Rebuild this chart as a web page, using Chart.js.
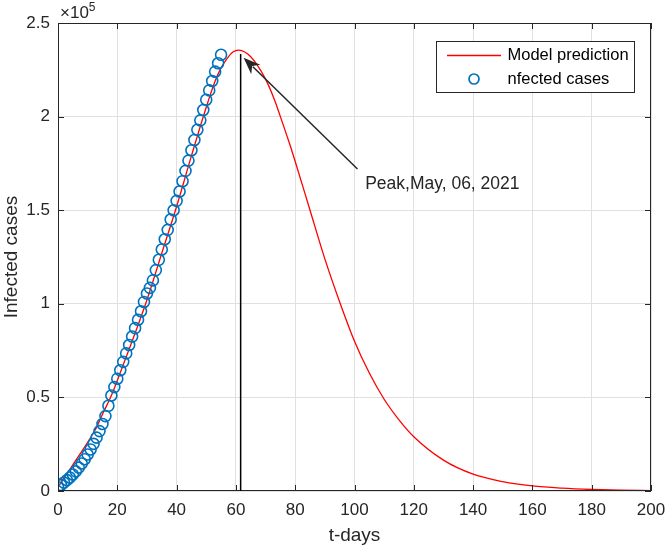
<!DOCTYPE html>
<html><head><meta charset="utf-8">
<script src="https://cdn.jsdelivr.net/npm/chart.js@4/dist/chart.umd.min.js"></script>
<style>html,body{margin:0;padding:0;background:#fff}canvas{display:block}</style>
</head><body>
<canvas id="c" width="666" height="550"></canvas>
<script>
// ---- data ----
const observedDays = [0,1,2,3,4,5,6,7,8,9,10,11,12,13,14,15,16,17,18,19,20,21,22,23,24,25,26,27,28,29,30,31,32,33,34,35,36,37,38,39,40,41,42,43,44,45,46,47,48,49,50,51,52,53,54,55];
const observedCases = [2000,3200,4500,5800,7200,8800,10500,12500,14700,17000,19500,22200,25200,28500,32000,35800,40000,45500,51000,55500,60000,64500,69000,73500,78000,82500,87000,91500,96000,101000,105500,108500,112500,118000,123500,129000,134500,139500,145000,150000,155000,160000,165500,171000,176500,182000,187500,193000,198000,203500,209000,214000,219000,224000,228500,233000];
const modelDays = [0,5,10,13,15,18,20,25,30,35,40,45,50,53,55,57,59,61,63,65,67,70,73,75,78,80,85,90,95,100,105,110,115,120,130,140,150,160,170,180,190,200];
const modelCases = [2000,14000,26000,34000,41000,51000,59000,80000,102000,127000,152000,179000,205000,219000,226000,231000,234500,235500,234500,232000,228000,220000,209000,200000,186000,176000,150000,124000,101000,80000,63000,49000,38000,29000,16500,9000,5000,2700,1500,800,400,200];
const xTickValues = [0,20,40,60,80,100,120,140,160,180,200];
const yTickValues = [0,50000,100000,150000,200000,250000];
const seriesNames = ['Model prediction','nfected cases'];
const xTitle = 't-days';
const yTitle = 'Infected cases';
const peakDay = 61.6;
const peakTop = 233500;
const arrowTail = [101, 172000];
const arrowTip = [62.6, 231500];
const peakLabel = 'Peak,May, 06, 2021';
const peakLabelAt = [103.6, 164000];

const FONT = '"Liberation Sans", Arial, Helvetica, sans-serif';
const AX = '#262626';
const BLUE = '#0072BD';

const decor = {
  id: 'decor',
  afterDraw(chart) {
    const ctx = chart.ctx, a = chart.chartArea;
    const xs = chart.scales.x, ys = chart.scales.y;
    ctx.save();
    // box
    ctx.strokeStyle = AX; ctx.lineWidth = 1;
    ctx.strokeRect(Math.round(a.left)+0.5, Math.round(a.top)+0.5, Math.round(a.right-a.left)-1, Math.round(a.bottom-a.top)-1);
    // inward ticks
    ctx.beginPath();
    xTickValues.forEach(v => {
      const x = Math.round(xs.getPixelForValue(v)) + 0.5;
      ctx.moveTo(x, a.bottom); ctx.lineTo(x, a.bottom - 6);
      ctx.moveTo(x, a.top); ctx.lineTo(x, a.top + 6);
    });
    yTickValues.forEach(v => {
      const y = Math.round(ys.getPixelForValue(v)) + 0.5;
      ctx.moveTo(a.left, y); ctx.lineTo(a.left + 6, y);
      ctx.moveTo(a.right, y); ctx.lineTo(a.right - 6, y);
    });
    ctx.stroke();
    // exponent
    ctx.fillStyle = AX;
    ctx.textBaseline = 'alphabetic'; ctx.textAlign = 'left';
    ctx.font = '17px ' + FONT;
    ctx.fillText('\u00d710', a.left + 2, a.top - 5);
    const w = ctx.measureText('\u00d710').width;
    ctx.font = '12px ' + FONT;
    ctx.fillText('5', a.left + 2 + w, a.top - 12);
    // peak vertical line
    const px = xs.getPixelForValue(peakDay);
    ctx.strokeStyle = '#000'; ctx.lineWidth = 1.5;
    ctx.beginPath();
    ctx.moveTo(px, ys.getPixelForValue(0)); ctx.lineTo(px, ys.getPixelForValue(peakTop));
    ctx.stroke();
    // arrow
    const tx = xs.getPixelForValue(arrowTail[0]), ty = ys.getPixelForValue(arrowTail[1]);
    const hx = xs.getPixelForValue(arrowTip[0]), hy = ys.getPixelForValue(arrowTip[1]);
    const ang = Math.atan2(hy - ty, hx - tx);
    const L = 17, W = 6.5;
    const bx = hx - L*Math.cos(ang), by = hy - L*Math.sin(ang);
    ctx.strokeStyle = '#262626'; ctx.lineWidth = 1.5;
    ctx.beginPath(); ctx.moveTo(tx, ty); ctx.lineTo(bx + 4*Math.cos(ang), by + 4*Math.sin(ang)); ctx.stroke();
    ctx.fillStyle = '#262626';
    ctx.beginPath();
    ctx.moveTo(hx, hy);
    ctx.lineTo(bx - W*Math.sin(ang), by + W*Math.cos(ang));
    ctx.lineTo(hx - 12*Math.cos(ang), hy - 12*Math.sin(ang));
    ctx.lineTo(bx + W*Math.sin(ang), by - W*Math.cos(ang));
    ctx.closePath(); ctx.fill();
    // label
    ctx.fillStyle = AX; ctx.font = '17.5px ' + FONT;
    ctx.textAlign = 'left'; ctx.textBaseline = 'middle';
    ctx.fillText(peakLabel, xs.getPixelForValue(peakLabelAt[0]), ys.getPixelForValue(peakLabelAt[1]));
    // legend
    const lr = a.right - 17, lt = a.top + 18, lw = 198, lh = 51;
    const ll = lr - lw;
    ctx.fillStyle = '#fff'; ctx.fillRect(ll, lt, lw, lh);
    ctx.strokeStyle = AX; ctx.lineWidth = 1;
    ctx.strokeRect(Math.round(ll)+0.5, Math.round(lt)+0.5, lw, lh);
    ctx.strokeStyle = '#ff0000'; ctx.lineWidth = 1.3;
    ctx.beginPath(); ctx.moveTo(ll + 11, lt + 14.5); ctx.lineTo(ll + 65, lt + 14.5); ctx.stroke();
    ctx.strokeStyle = BLUE; ctx.lineWidth = 1.7;
    ctx.beginPath(); ctx.arc(ll + 38, lt + 38, 5, 0, Math.PI*2); ctx.stroke();
    ctx.fillStyle = '#000'; ctx.font = '16.5px ' + FONT;
    ctx.textAlign = 'left'; ctx.textBaseline = 'middle';
    ctx.fillText(seriesNames[0], ll + 71.5, lt + 14.5);
    ctx.fillText(seriesNames[1], ll + 71.5, lt + 38);
    // axis titles
    ctx.fillStyle = AX; ctx.font = '19px ' + FONT;
    ctx.textAlign = 'center'; ctx.textBaseline = 'middle';
    ctx.fillText(xTitle, (a.left + a.right)/2, 536);
    ctx.save();
    ctx.translate(12, (a.top + a.bottom)/2);
    ctx.rotate(-Math.PI/2);
    ctx.fillText(yTitle, 0, 0);
    ctx.restore();
    ctx.restore();
  }
};

new Chart(document.getElementById('c'), {
  type: 'scatter',
  data: {
    datasets: [
      {
        label: seriesNames[0],
        data: modelDays.map((d, i) => ({x: d, y: modelCases[i]})),
        showLine: true, borderColor: '#ff0000', borderWidth: 1.3,
        pointRadius: 0, cubicInterpolationMode: 'monotone', order: 2, fill: false
      },
      {
        label: seriesNames[1],
        data: observedDays.map((d, i) => ({x: d, y: observedCases[i]})),
        showLine: false, borderColor: BLUE, backgroundColor: 'rgba(0,0,0,0)',
        borderWidth: 1.6, pointRadius: 5.5, pointStyle: 'circle', order: 1
      }
    ]
  },
  options: {
    responsive: false, animation: false, devicePixelRatio: 1,
    layout: { padding: { left: 0, top: 23, right: 15, bottom: 0 } },
    plugins: { legend: { display: false }, tooltip: { enabled: false } },
    scales: {
      x: {
        type: 'linear', min: 0, max: 200,
        afterBuildTicks: s => { s.ticks = xTickValues.map(v => ({value: v})); },
        afterFit: s => { s.height = 59; s.paddingLeft = 0; s.paddingRight = 0; },
        ticks: { color: AX, font: { family: FONT, size: 17 }, padding: 9, maxRotation: 0, autoSkip: false },
        grid: { color: '#e0e0e0', lineWidth: 1, drawTicks: false },
        border: { display: false }
      },
      y: {
        type: 'linear', min: 0, max: 250000,
        afterBuildTicks: s => { s.ticks = yTickValues.map(v => ({value: v})); },
        afterFit: s => { s.width = 58; s.paddingTop = 0; s.paddingBottom = 0; },
        ticks: { color: AX, font: { family: FONT, size: 17 }, padding: 8, callback: v => String(v / 100000) },
        grid: { color: '#e0e0e0', lineWidth: 1, drawTicks: false },
        border: { display: false }
      }
    }
  },
  plugins: [decor]
});
</script>
</body></html>
